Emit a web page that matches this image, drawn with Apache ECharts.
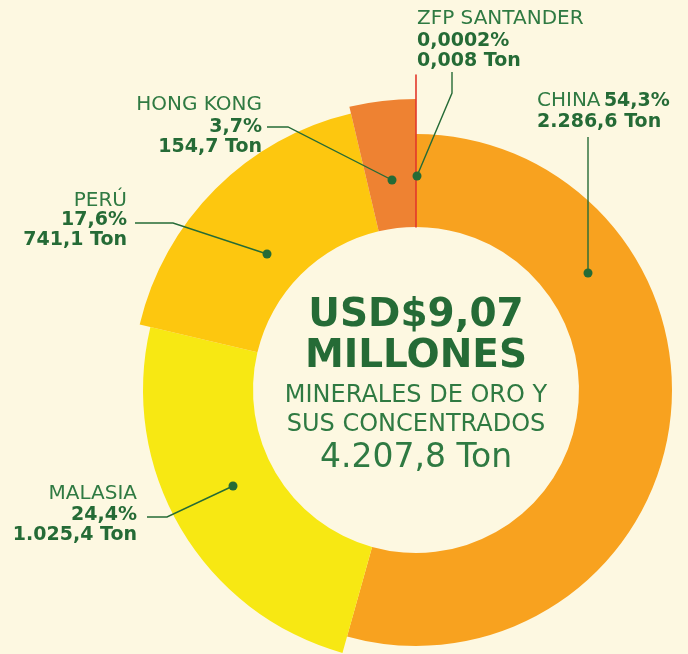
<!DOCTYPE html>
<html><head><meta charset="utf-8">
<script src="https://cdn.jsdelivr.net/npm/echarts@6/dist/echarts.min.js"></script>
<style>html,body{margin:0;padding:0;background:#FDF8E1;}#c{width:688px;height:654px;}</style>
</head><body><div id="c"></div>
<script>
// ---- data ----
const names = ['CHINA', 'MALASIA', 'PERÚ', 'HONG KONG', 'ZFP SANTANDER'];
const tons = [2286.6, 1025.4, 741.1, 154.7, 0.008];
const shareLabels = ['54,3%', '24,4%', '17,6%', '3,7%', '0,0002%'];
const tonLabels = ['2.286,6 Ton', '1.025,4 Ton', '741,1 Ton', '154,7 Ton', '0,008 Ton'];
const centerLines = ['USD$9,07', 'MILLONES', 'MINERALES DE ORO Y', 'SUS CONCENTRADOS', '4.207,8 Ton'];

// ---- style / layout ----
const colors = ['#F8A21F', '#F7E813', '#FDC70F', '#EE8232', '#E2382B'];
const outerR = [256, 273, 284, 291, 315];
const innerR = 163;
const center = [416, 390];
const green = '#256B36';
const greenLight = '#2F7A42';
const FONT = '"DejaVu Sans", sans-serif';
const REG = '20px ' + FONT;
const BOLD = 'bold 19px ' + FONT;

const series = names.map((n, i) => ({
  type: 'pie',
  silent: true,
  center: center,
  radius: [innerR, outerR[i]],
  startAngle: 90,
  clockwise: true,
  avoidLabelOverlap: false,
  label: { show: false },
  labelLine: { show: false },
  emphasis: { disabled: true },
  animation: false,
  data: names.map((m, j) => ({
    name: m,
    value: tons[j],
    itemStyle: j === i
      ? (i === 4 ? { color: colors[j], borderColor: colors[j], borderWidth: 1.6 } : { color: colors[j], borderWidth: 0 })
      : { color: 'transparent', borderWidth: 0 }
  }))
}));

// annotation layout (label anchor, alignment, leader-line points)
const ann = [
  { x: 537, ys: [101, 122], align: 'left', pts: [[588, 273], [588, 137]] },
  { x: 137, ys: [494, 515, 535], align: 'right', pts: [[233, 486], [167, 517], [147, 517]] },
  { x: 127, ys: [201, 220, 240], align: 'right', pts: [[267, 254], [173, 223], [135, 223]] },
  { x: 262, ys: [105, 127, 147], align: 'right', pts: [[392, 180], [288, 127], [267, 127]] },
  { x: 417, ys: [19, 41, 61], align: 'left', pts: [[417, 176], [452, 93], [452, 72]] }
];

const graphics = [];
ann.forEach((a, i) => {
  graphics.push({ type: 'polyline', silent: true, shape: { points: a.pts }, style: { stroke: green, lineWidth: 1.4, fill: null }, z: 10 });
  graphics.push({ type: 'circle', silent: true, shape: { cx: a.pts[0][0], cy: a.pts[0][1], r: 4.5 }, style: { fill: green }, z: 11 });
  if (i === 0) {
    graphics.push({ type: 'text', silent: true, x: a.x, y: a.ys[0], z: 12, style: {
      text: '{r|' + names[i] + '} {b|' + shareLabels[i] + '}', align: 'left', verticalAlign: 'middle',
      rich: { r: { font: REG, fill: greenLight }, b: { font: BOLD, fill: green } } } });
    graphics.push({ type: 'text', silent: true, x: a.x, y: a.ys[1], z: 12, style: {
      text: tonLabels[i], font: BOLD, fill: green, align: 'left', verticalAlign: 'middle' } });
  } else {
    const lines = [names[i], shareLabels[i], tonLabels[i]];
    lines.forEach((t, k) => {
      graphics.push({ type: 'text', silent: true, x: a.x, y: a.ys[k], z: 12, style: {
        text: t, font: k === 0 ? REG : BOLD, fill: k === 0 ? greenLight : green,
        align: a.align, verticalAlign: 'middle' } });
    });
  }
});

const centerStyle = [
  { y: 316, font: 'bold 39px ' + FONT },
  { y: 357, font: 'bold 39px ' + FONT },
  { y: 396, font: '24px ' + FONT },
  { y: 425, font: '24px ' + FONT },
  { y: 458, font: '33px ' + FONT }
];
centerLines.forEach((t, k) => {
  graphics.push({ type: 'text', silent: true, x: center[0], y: centerStyle[k].y, z: 12, style: {
    text: t, font: centerStyle[k].font, fill: k < 2 ? green : greenLight, align: 'center', verticalAlign: 'middle' } });
});

const chart = echarts.init(document.getElementById('c'), null, { renderer: 'canvas' });
chart.setOption({
  backgroundColor: '#FDF8E1',
  animation: false,
  series: series,
  graphic: graphics
});
</script></body></html>
